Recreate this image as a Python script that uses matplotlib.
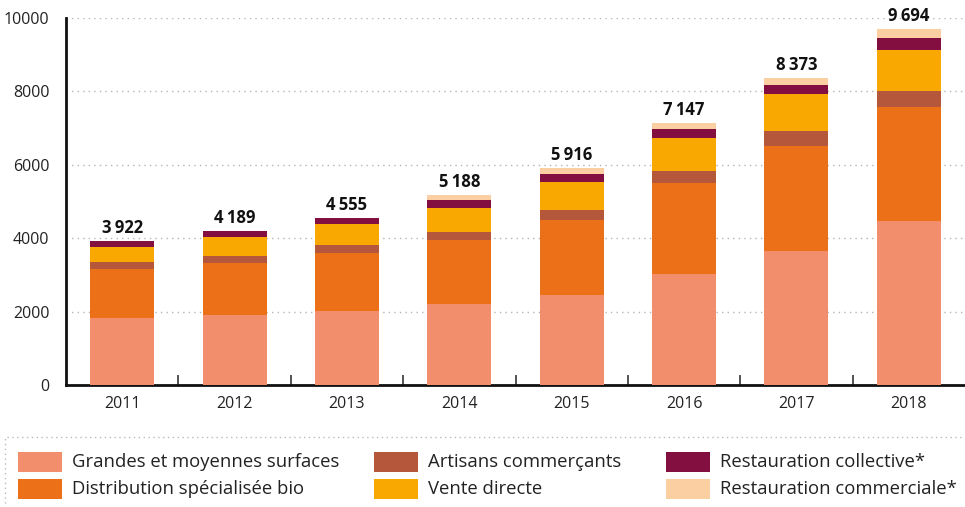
import matplotlib
matplotlib.use("Agg")
import matplotlib.pyplot as plt
from matplotlib.patches import Rectangle
import numpy as np

plt.rcParams['font.family'] = ['Open Sans', 'DejaVu Sans']

years = ['2011', '2012', '2013', '2014', '2015', '2016', '2017', '2018']
series_names = ['Grandes et moyennes surfaces', 'Distribution spécialisée bio',
                'Artisans commerçants', 'Vente directe',
                'Restauration collective*', 'Restauration commerciale*']
gms = [1826, 1907, 2016, 2207, 2452, 3025, 3651, 4469]
dsb = [1334, 1417, 1581, 1744, 2044, 2479, 2861, 3106]
artisans = [191, 191, 218, 218, 272, 327, 409, 436]
vente = [409, 518, 572, 654, 763, 899, 1008, 1117]
rest_coll = [162, 156, 168, 218, 218, 245, 245, 327]
rest_com = [0, 0, 0, 147, 167, 172, 199, 239]
totals = [3922, 4189, 4555, 5188, 5916, 7147, 8373, 9694]
colors = ['#F28E6B', '#EC7018', '#B5573A', '#F8A800', '#820F3F', '#FBCFA2']

series = [gms, dsb, artisans, vente, rest_coll, rest_com]

fig = plt.figure(figsize=(9.65, 5.07), dpi=100)
ax = fig.add_axes([66/965, (507-385)/507, 1 - 66/965, (385-18)/507])

x = np.arange(len(years))
bottom = np.zeros(len(years))
for vals, c in zip(series, colors):
    ax.bar(x, vals, bottom=bottom, width=0.57, color=c, zorder=3)
    bottom += np.array(vals)

for xi, t in zip(x, totals):
    s = f"{t:,}".replace(",", "\u2009")
    ax.text(xi, t + 110, s, ha='center', va='bottom', fontsize=12,
            fontweight='bold', color='#111111', zorder=4)

ax.set_xlim(-0.5, 7.5)
ax.set_ylim(0, 10000)
ax.set_yticks([0, 2000, 4000, 6000, 8000, 10000])
ax.set_yticklabels(['0', '2000', '4000', '6000', '8000', '10000'], fontsize=11.5, color='#222222')
ax.set_xticks(x)
ax.set_xticklabels(years, fontsize=11.5, color='#222222')
ax.set_xticks(np.arange(0.5, 7, 1), minor=True)
ax.tick_params(axis='x', which='major', length=0, pad=8)
ax.tick_params(axis='x', which='minor', length=7, width=1.3, direction='in', color='#444444')
ax.tick_params(axis='y', length=0, pad=12)
ax.grid(axis='y', linestyle=(0, (1, 3)), color='#b5b5b5', linewidth=1, zorder=0)
for sp in ['top', 'right']:
    ax.spines[sp].set_visible(False)
ax.spines['left'].set_linewidth(2)
ax.spines['bottom'].set_linewidth(2)
ax.spines['left'].set_color('#111111')
ax.spines['bottom'].set_color('#111111')

# legend box
W, H = 965, 507
fig.patches.append(Rectangle((5/W, -0.01), 1.0, (507-437)/507 + 0.01, transform=fig.transFigure,
                             fill=False, edgecolor='#bbbbbb', linestyle=(0, (1, 2.5)), linewidth=1))
col_x = [18, 374, 666]
row_y = [462, 489]
for i, (name, c) in enumerate(zip(series_names, colors)):
    col = i // 2
    row = i % 2
    px = col_x[col]
    py = row_y[row]
    fig.patches.append(Rectangle((px/W, (H - py - 10)/H), 44/W, 20/H,
                                 transform=fig.transFigure, facecolor=c, edgecolor='none'))
    fig.text((px + 54)/W, (H - py)/H, name, fontsize=13.3, va='center', ha='left', color='#222222')

fig.savefig('out.png', dpi=100)
